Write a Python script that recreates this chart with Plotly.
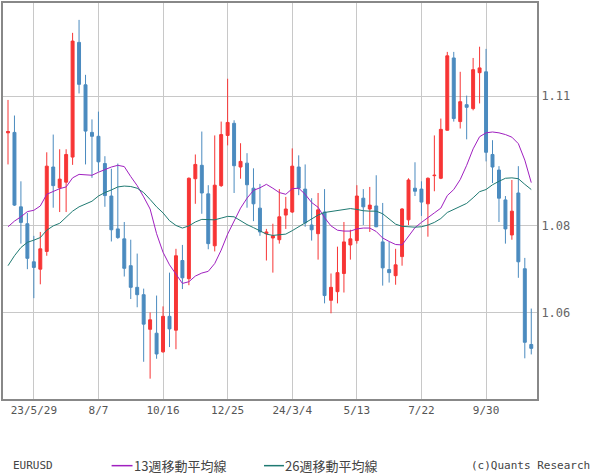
import pandas as pd
import plotly.graph_objects as go

# ---- data (weekly EURUSD candles) ----
week_start = "2023-05-01"
n_weeks = 82

opens = [1.1015, 1.1016, 1.0844, 1.0805, 1.0717, 1.0700, 1.0741, 1.0936, 1.0888, 1.0901,
         1.0959, 1.1224, 1.1126, 1.1016, 1.1007, 1.0944, 1.0869, 1.0793, 1.0770, 1.0708,
         1.0658, 1.0641, 1.0561, 1.0552, 1.0509, 1.0591, 1.0559, 1.0720, 1.0678, 1.0909,
         1.0940, 1.0874, 1.0754, 1.0893, 1.1009, 1.1037, 1.0936, 1.0945, 1.0887, 1.0841,
         1.0782, 1.0772, 1.0768, 1.0825, 1.0832, 1.0936, 1.0885, 1.0802, 1.0782, 1.0832,
         1.0628, 1.0648, 1.0690, 1.0756, 1.0766, 1.0864, 1.0839, 1.0846, 1.0763, 1.0699,
         1.0685, 1.0729, 1.0814, 1.0887, 1.0885, 1.0851, 1.0916, 1.0910, 1.1021, 1.1188,
         1.1041, 1.1080, 1.1071, 1.1154, 1.1156, 1.0965, 1.0929, 1.0860, 1.0779, 1.0876,
         1.0701, 1.0526]
highs = [1.1091, 1.1055, 1.0903, 1.0830, 1.0777, 1.0786, 1.0970, 1.1011, 1.0977, 1.0977,
         1.1246, 1.1276, 1.1149, 1.1046, 1.1064, 1.0961, 1.0932, 1.0944, 1.0809, 1.0768,
         1.0736, 1.0655, 1.0600, 1.0639, 1.0614, 1.0692, 1.0747, 1.0756, 1.0912, 1.0965,
         1.1018, 1.0894, 1.1009, 1.1041, 1.1140, 1.1044, 1.0991, 1.0968, 1.0933, 1.0897,
         1.0793, 1.0805, 1.0885, 1.0867, 1.0979, 1.0963, 1.0942, 1.0864, 1.0876, 1.0885,
         1.0690, 1.0752, 1.0809, 1.0791, 1.0894, 1.0885, 1.0890, 1.0917, 1.0853, 1.0763,
         1.0747, 1.0841, 1.0910, 1.0947, 1.0903, 1.0912, 1.1009, 1.1048, 1.1202, 1.1202,
         1.1156, 1.1101, 1.1188, 1.1214, 1.1209, 1.0998, 1.0938, 1.0869, 1.0906, 1.0938,
         1.0726, 1.0609]
lows = [1.0942, 1.0846, 1.0759, 1.0700, 1.0633, 1.0665, 1.0731, 1.0842, 1.0832, 1.0832,
        1.0941, 1.1106, 1.0942, 1.0911, 1.0926, 1.0844, 1.0764, 1.0770, 1.0683, 1.0631,
        1.0612, 1.0486, 1.0447, 1.0493, 1.0507, 1.0520, 1.0515, 1.0654, 1.0663, 1.0851,
        1.0828, 1.0746, 1.0741, 1.0890, 1.0986, 1.0876, 1.0909, 1.0842, 1.0811, 1.0777,
        1.0720, 1.0692, 1.0759, 1.0793, 1.0830, 1.0871, 1.0798, 1.0766, 1.0722, 1.0621,
        1.0598, 1.0621, 1.0646, 1.0722, 1.0759, 1.0802, 1.0786, 1.0797, 1.0662, 1.0669,
        1.0664, 1.0708, 1.0802, 1.0869, 1.0823, 1.0775, 1.0880, 1.0908, 1.1020, 1.1041,
        1.1025, 1.1000, 1.1067, 1.1083, 1.0949, 1.0899, 1.0809, 1.0759, 1.0768, 1.0680,
        1.0494, 1.0503]
closes = [1.1018, 1.0848, 1.0808, 1.0725, 1.0704, 1.0747, 1.0938, 1.0893, 1.0908, 1.0965,
          1.1227, 1.1127, 1.1019, 1.1007, 1.0948, 1.0870, 1.0791, 1.0773, 1.0702, 1.0658,
          1.0641, 1.0573, 1.0583, 1.0504, 1.0591, 1.0562, 1.0731, 1.0680, 1.0910, 1.0942,
          1.0876, 1.0759, 1.0894, 1.1011, 1.1039, 1.0939, 1.0949, 1.0895, 1.0851, 1.0786,
          1.0786, 1.0777, 1.0821, 1.0839, 1.0938, 1.0887, 1.0807, 1.0791, 1.0837, 1.0639,
          1.0658, 1.0692, 1.0763, 1.0770, 1.0869, 1.0844, 1.0848, 1.0798, 1.0703, 1.0692,
          1.0710, 1.0839, 1.0906, 1.0880, 1.0855, 1.0910, 1.0917, 1.1023, 1.1193, 1.1048,
          1.1087, 1.1074, 1.1161, 1.1165, 1.0970, 1.0936, 1.0864, 1.0793, 1.0834, 1.0717,
          1.0531, 1.0517]
ma13 = [1.0798, 1.0811, 1.0821, 1.0833, 1.0836, 1.0846, 1.0873, 1.0880, 1.0886, 1.0890,
        1.0911, 1.0919, 1.0918, 1.0917, 1.0924, 1.0930, 1.0936, 1.0940, 1.0937, 1.0914,
        1.0893, 1.0867, 1.0839, 1.0782, 1.0739, 1.0710, 1.0688, 1.0667, 1.0671, 1.0684,
        1.0691, 1.0695, 1.0713, 1.0744, 1.0781, 1.0810, 1.0841, 1.0864, 1.0882, 1.0888,
        1.0896, 1.0887, 1.0877, 1.0873, 1.0886, 1.0887, 1.0873, 1.0854, 1.0843, 1.0819,
        1.0800, 1.0790, 1.0788, 1.0788, 1.0793, 1.0795, 1.0795, 1.0787, 1.0772, 1.0764,
        1.0757, 1.0756, 1.0777, 1.0796, 1.0808, 1.0820, 1.0830, 1.0841, 1.0870, 1.0884,
        1.0907, 1.0940, 1.0978, 1.1006, 1.1015, 1.1017, 1.1015, 1.1011, 1.1005, 1.0990,
        1.0952, 1.0900]
ma26 = [1.0708, 1.0731, 1.0750, 1.0762, 1.0767, 1.0773, 1.0790, 1.0800, 1.0806, 1.0819,
        1.0834, 1.0844, 1.0851, 1.0857, 1.0869, 1.0877, 1.0883, 1.0890, 1.0892, 1.0891,
        1.0887, 1.0877, 1.0861, 1.0844, 1.0830, 1.0812, 1.0801, 1.0795, 1.0800, 1.0809,
        1.0815, 1.0815, 1.0814, 1.0818, 1.0822, 1.0821, 1.0811, 1.0803, 1.0796, 1.0788,
        1.0781, 1.0778, 1.0779, 1.0781, 1.0789, 1.0798, 1.0806, 1.0815, 1.0825, 1.0831,
        1.0833, 1.0836, 1.0838, 1.0840, 1.0838, 1.0835, 1.0834, 1.0834, 1.0828, 1.0815,
        1.0804, 1.0799, 1.0798, 1.0797, 1.0798, 1.0802, 1.0808, 1.0817, 1.0831, 1.0838,
        1.0844, 1.0852, 1.0865, 1.0879, 1.0884, 1.0895, 1.0903, 1.0910, 1.0911, 1.0909,
        1.0896, 1.0884]

tick_dates = ["2023-05-29", "2023-08-07", "2023-10-16", "2023-12-25",
              "2024-03-04", "2024-05-13", "2024-07-22", "2024-09-30"]
tick_labels = ["23/5/29", "8/7", "10/16", "12/25", "24/3/4", "5/13", "7/22", "9/30"]
y_ticks = [1.06, 1.08, 1.11]
y_labels = ["1.06", "1.08", "1.11"]

dates = pd.date_range(start=week_start, periods=n_weeks, freq="7D")

RED = "#F73535"
BLUE = "#4B8BBF"
MAG = "#A020C0"
TEAL = "#1F7A72"

fig = go.Figure()
fig.add_trace(go.Candlestick(
    x=dates, open=opens, high=highs, low=lows, close=closes,
    increasing=dict(line=dict(color=RED, width=1), fillcolor=RED),
    decreasing=dict(line=dict(color=BLUE, width=1), fillcolor=BLUE),
    whiskerwidth=0, showlegend=False, hoverinfo="skip"))
fig.add_trace(go.Scatter(x=dates, y=ma13, mode="lines",
                         line=dict(color=MAG, width=1), showlegend=False, hoverinfo="skip"))
fig.add_trace(go.Scatter(x=dates, y=ma26, mode="lines",
                         line=dict(color=TEAL, width=1), showlegend=False, hoverinfo="skip"))

W, H = 600, 475
L, R, T, B = 1, 63, 1, 76
pw, ph = W - L - R, H - T - B


def px(xp):
    return (xp - L) / pw


def py(yp):
    return (H - B - yp) / ph


mono = "DejaVu Sans Mono"
cjk = "Noto Sans CJK JP"

fig.update_layout(
    width=W, height=H,
    margin=dict(l=L, r=R, t=T, b=B),
    paper_bgcolor="white", plot_bgcolor="white",
    boxgap=0.35,
    xaxis=dict(
        type="date",
        range=["2023-04-25 14:00", "2024-11-24 05:00"],
        tickvals=tick_dates, ticktext=tick_labels,
        showgrid=True, gridcolor="#C8C8C8", gridwidth=1,
        showline=True, mirror=True, linecolor="#888888", linewidth=2,
        ticks="", tickfont=dict(family=mono, size=11, color="#555555"),
        rangeslider=dict(visible=False), zeroline=False, fixedrange=True,
    ),
    yaxis=dict(
        range=[1.04, 1.1315], side="right",
        tickvals=y_ticks, ticktext=y_labels,
        showgrid=True, gridcolor="#C8C8C8", gridwidth=1,
        showline=True, mirror=True, linecolor="#888888", linewidth=2,
        ticks="", tickfont=dict(family=mono, size=12, color="#666666"),
        zeroline=False, fixedrange=True,
    ),
    showlegend=False,
)

ann_y = py(466)
fig.add_annotation(xref="paper", yref="paper", x=px(9), y=ann_y, text="EURUSD",
                   showarrow=False, xanchor="left", yanchor="middle",
                   font=dict(family=mono, size=11, color="#444444"))
fig.add_annotation(xref="paper", yref="paper", x=px(130), y=ann_y, text="13週移動平均線",
                   showarrow=False, xanchor="left", yanchor="middle",
                   font=dict(family=cjk, size=13, color="#444444"))
fig.add_annotation(xref="paper", yref="paper", x=px(282), y=ann_y, text="26週移動平均線",
                   showarrow=False, xanchor="left", yanchor="middle",
                   font=dict(family=cjk, size=13, color="#444444"))
fig.add_annotation(xref="paper", yref="paper", x=px(592), y=ann_y, text="(c)Quants Research",
                   showarrow=False, xanchor="right", yanchor="middle",
                   font=dict(family=mono, size=11, color="#444444"))
fig.add_shape(type="line", xref="paper", yref="paper", x0=px(110), x1=px(131),
              y0=ann_y, y1=ann_y, line=dict(color=MAG, width=1.5))
fig.add_shape(type="line", xref="paper", yref="paper", x0=px(263), x1=px(283),
              y0=ann_y, y1=ann_y, line=dict(color=TEAL, width=1.5))

fig.write_html("out.html", config={"displayModeBar": False, "staticPlot": True},
               post_script="document.body.style.margin='0px';document.body.style.padding='0px';")
